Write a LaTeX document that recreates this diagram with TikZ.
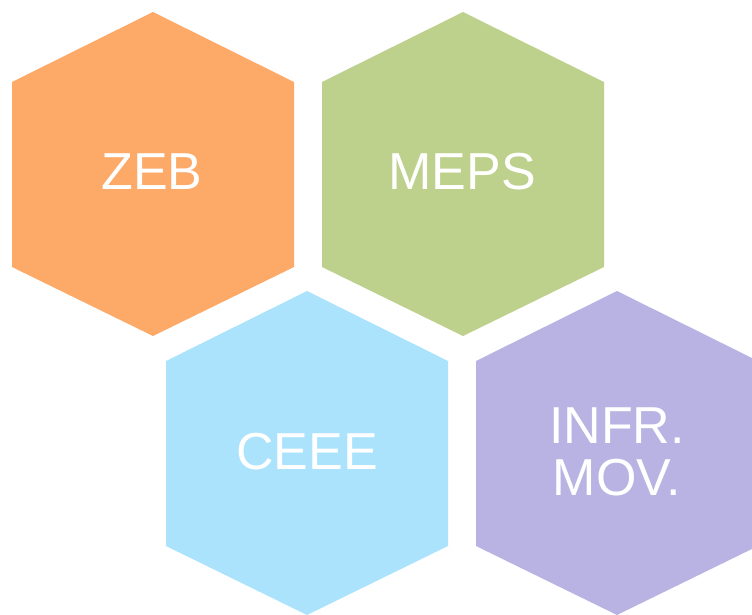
\documentclass[tikz,border=0pt]{standalone}
\usepackage{fontspec}
\setmainfont{Liberation Sans}
\definecolor{hexorange}{RGB}{253,169,104}
\definecolor{hexgreen}{RGB}{189,209,140}
\definecolor{hexblue}{RGB}{171,227,253}
\definecolor{hexpurple}{RGB}{184,179,226}
\tikzset{
  hexlabel/.style={text=white, font=\fontsize{52}{52}\selectfont, align=center, inner sep=0pt},
}
\newcommand{\hexat}[3]{%
  \fill[#3] (#1,#2-162) -- (#1+141,#2-92) -- (#1+141,#2+93) -- (#1,#2+162) -- (#1-141,#2+93) -- (#1-141,#2-92) -- cycle;}
\begin{document}
\begin{tikzpicture}[x=1pt,y=-1pt]
\useasboundingbox (0,0) rectangle (752,615);
\clip (0,0) rectangle (752,615);
\hexat{153}{174}{hexorange}
\hexat{463}{174}{hexgreen}
\hexat{307}{453}{hexblue}
\hexat{617}{453}{hexpurple}
\node[hexlabel] (zeb) at (152,172) {ZEB};
\node[hexlabel] (meps) at (462,172) {MEPS};
\node[hexlabel] (ceee) at (307,452) {CEEE};
\node[hexlabel] (infr) at (617,452) {INFR.\\MOV.};
\end{tikzpicture}
\end{document}
